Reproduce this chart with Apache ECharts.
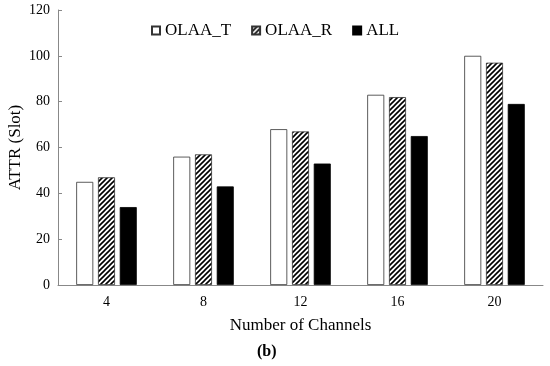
<!DOCTYPE html>
<html><head><meta charset="utf-8">
<script src="https://cdn.jsdelivr.net/npm/echarts@6/dist/echarts.min.js"></script>
<style>html,body{margin:0;padding:0;background:#fff}#c{width:550px;height:366px}</style>
</head><body><div id="c"></div>
<script>
var categories = ['4', '8', '12', '16', '20'];
var olaaT = [45, 56, 68, 83, 100];
var olaaR = [47, 57, 67, 82, 97];
var allV = [34, 43, 53, 65, 79];
var yTicks = [0, 20, 40, 60, 80, 100, 120];

function hatch() {
  var c = document.createElement('canvas');
  c.width = 5; c.height = 5;
  var g = c.getContext('2d');
  g.fillStyle = '#fff'; g.fillRect(0, 0, 5, 5);
  g.strokeStyle = '#000'; g.lineWidth = 1.6;
  g.beginPath();
  g.moveTo(-1, 6); g.lineTo(6, -1);
  g.moveTo(-1, 1); g.lineTo(1, -1);
  g.moveTo(4, 6); g.lineTo(6, 4);
  g.stroke();
  return c;
}
var font = '"Liberation Serif", "Times New Roman", serif';
var chart = echarts.init(document.getElementById('c'), null, {renderer: 'canvas'});
chart.setOption({
  animation: false,
  textStyle: {fontFamily: font},
  grid: {left: 58, right: 7, top: 10, bottom: 81, containLabel: false, outerBoundsMode: 'none'},
  legend: {
    top: 17, left: 146, itemWidth: 8, itemHeight: 8, itemGap: 20, icon: 'rect',
    textStyle: {fontFamily: font, fontSize: 17, color: '#000'},
    data: ['OLAA_T', 'OLAA_R', 'ALL']
  },
  xAxis: {
    type: 'category', data: categories,
    name: 'Number of Channels', nameLocation: 'middle', nameGap: 32, nameMoveOverlap: false,
    nameTextStyle: {fontFamily: font, fontSize: 17, color: '#000'},
    axisLine: {lineStyle: {color: '#888', width: 1}},
    axisTick: {inside: true, length: 4, lineStyle: {color: '#888'}},
    axisLabel: {fontFamily: font, fontSize: 14, color: '#000', margin: 10}
  },
  yAxis: {
    type: 'value', min: 0, max: 120, interval: 20,
    name: 'ATTR (Slot)', nameLocation: 'middle', nameGap: 34, nameMoveOverlap: false,
    nameTextStyle: {fontFamily: font, fontSize: 17, color: '#000'},
    splitLine: {show: false},
    axisLine: {show: true, lineStyle: {color: '#888', width: 1}},
    axisTick: {show: true, inside: true, length: 4, lineStyle: {color: '#888'}},
    axisLabel: {fontFamily: font, fontSize: 14, color: '#000', margin: 8,
      formatter: function (v) { return yTicks.indexOf(v) >= 0 ? String(v) : ''; }}
  },
  graphic: [{type: 'text', x: 257, y: 344,
    style: {text: '(b)', font: 'bold 16px ' + font, fill: '#000'}}],
  series: [
    {name: 'OLAA_T', type: 'bar', data: olaaT, barWidth: 17, barGap: '28%',
      itemStyle: {color: '#fff', borderColor: '#333', borderWidth: 0.8}},
    {name: 'OLAA_R', type: 'bar', data: olaaR, barWidth: 17,
      itemStyle: {color: {image: hatch(), repeat: 'repeat'}, borderColor: '#333', borderWidth: 0.8}},
    {name: 'ALL', type: 'bar', data: allV, barWidth: 17,
      itemStyle: {color: '#000', borderColor: '#000', borderWidth: 0.8}}
  ]
});
</script></body></html>
